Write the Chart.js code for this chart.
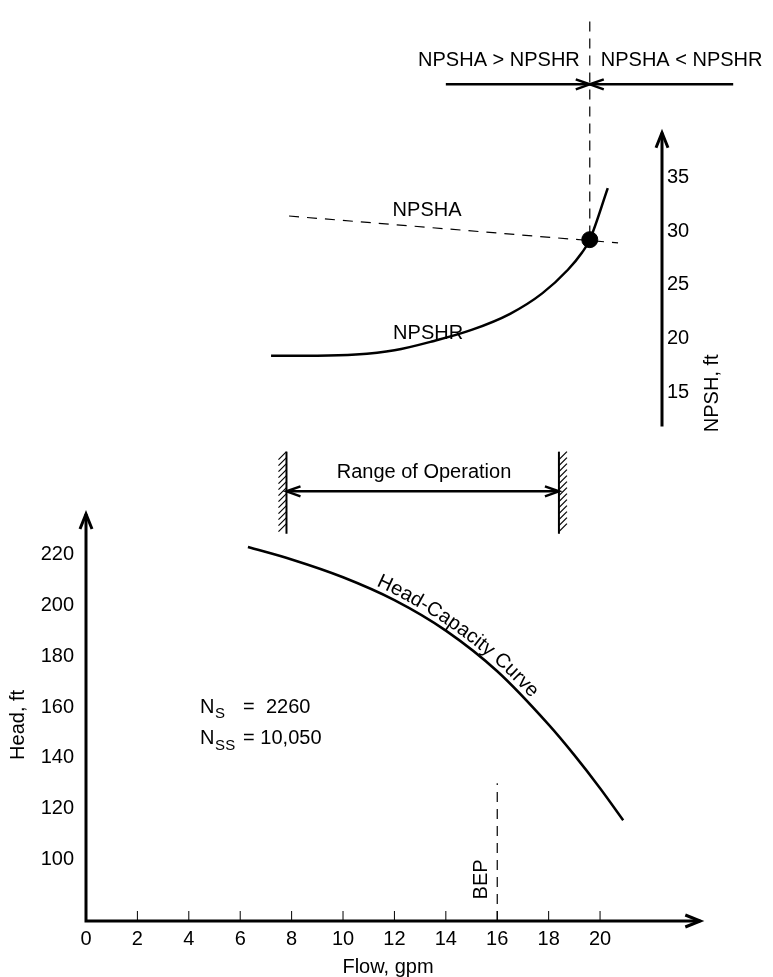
<!DOCTYPE html>
<html>
<head>
<meta charset="utf-8">
<title>Pump curves</title>
<script src="https://cdn.jsdelivr.net/npm/chart.js@4.4.0/dist/chart.umd.min.js"></script>
<style>
    html, body { margin: 0; padding: 0; background: #fff; }
    #wrap { position: relative; width: 773px; height: 977px; }
</style>
</head>
<body>
<div id="wrap"><canvas id="pumpChart" width="773" height="977"></canvas></div>
<script>
// Axis ticks
const flowTicks = [0, 2, 4, 6, 8, 10, 12, 14, 16, 18, 20];
const headTicks = [100, 120, 140, 160, 180, 200, 220];
const npshTicks = [15, 20, 25, 30, 35];

// Head-capacity curve (gpm, ft)
const hcFlow = [6.3, 8, 10, 12, 14, 16, 18, 19, 20, 20.9];
const hcHead = [223, 218.1, 211.1, 202.1, 190.1, 174.1, 153.1, 141.1, 128.1, 115.5];

// NPSH required (gpm, ft)
const npshrFlow = [7.2, 9, 10.5, 12, 13.5, 15, 16.5, 17.75, 18.75, 19.3, 19.6, 20.3];
const npshrVal = [18.4, 18.4, 18.5, 18.9, 19.75, 20.8, 22.3, 24.2, 26.4, 28.0, 29.2, 34.0];

// NPSH available (gpm, ft)
const npshaFlow = [7.9, 20.7];
const npshaVal = [31.4, 28.9];

// crossing point, BEP, operating range
const crossFlow = 19.6;
const crossNpsh = 29.2;
const bepFlow = 16;
const bepHead = [75.84, 130];
const rangeFlow = [7.8, 18.4];

const FONT = "'Liberation Sans', Arial, Helvetica, sans-serif";
const X_MAX = 22.41;
const HEAD_MIN = 75.84, HEAD_MAX = 434.67;
const NPSH_MIN = -34.22, NPSH_MAX = 50.67;

function toPoints(xs, ys) {
    return xs.map((v, i) => ({ x: v, y: ys[i] }));
}

// open "V" arrow head pointing along ang
function arrowHead(ctx, tx, ty, ang, len, half) {
    const c = Math.cos(ang), s = Math.sin(ang);
    ctx.beginPath();
    ctx.moveTo(tx - len * c - half * s, ty - len * s + half * c);
    ctx.lineTo(tx, ty);
    ctx.lineTo(tx - len * c + half * s, ty - len * s - half * c);
    ctx.stroke();
}

function line(ctx, x1, y1, x2, y2) {
    ctx.beginPath();
    ctx.moveTo(x1, y1);
    ctx.lineTo(x2, y2);
    ctx.stroke();
}

function text(ctx, str, x, y, align, size, rot) {
    ctx.save();
    ctx.font = (size || 20) + 'px ' + FONT;
    ctx.textAlign = align || 'center';
    ctx.textBaseline = 'middle';
    ctx.translate(x, y);
    if (rot) ctx.rotate(rot);
    ctx.fillText(str, 0, 0);
    ctx.restore();
}

// sample the drawn curve of a dataset into a dense polyline
function samplePath(meta) {
    const els = meta.data;
    const out = [];
    for (let i = 0; i < els.length - 1; i++) {
        const a = els[i], b = els[i + 1];
        const c1x = a.cp2x !== undefined ? a.cp2x : a.x, c1y = a.cp2y !== undefined ? a.cp2y : a.y;
        const c2x = b.cp1x !== undefined ? b.cp1x : b.x, c2y = b.cp1y !== undefined ? b.cp1y : b.y;
        for (let k = 0; k < 20; k++) {
            const t = k / 20, u = 1 - t;
            out.push({
                x: u*u*u*a.x + 3*u*u*t*c1x + 3*u*t*t*c2x + t*t*t*b.x,
                y: u*u*u*a.y + 3*u*u*t*c1y + 3*u*t*t*c2y + t*t*t*b.y
            });
        }
    }
    const last = els[els.length - 1];
    out.push({ x: last.x, y: last.y });
    let acc = 0;
    out[0].s = 0;
    for (let i = 1; i < out.length; i++) {
        acc += Math.hypot(out[i].x - out[i-1].x, out[i].y - out[i-1].y);
        out[i].s = acc;
    }
    return out;
}

function pointAtLength(path, s) {
    for (let i = 1; i < path.length; i++) {
        if (path[i].s >= s) {
            const a = path[i-1], b = path[i];
            const t = (s - a.s) / ((b.s - a.s) || 1);
            return { x: a.x + (b.x - a.x) * t, y: a.y + (b.y - a.y) * t, ang: Math.atan2(b.y - a.y, b.x - a.x) };
        }
    }
    const a = path[path.length - 2], b = path[path.length - 1];
    return { x: b.x, y: b.y, ang: Math.atan2(b.y - a.y, b.x - a.x) };
}

const annotations = {
    id: 'annotations',
    afterDatasetsDraw(chart) {
        const { ctx, chartArea } = chart;
        const xs = chart.scales.x, ys = chart.scales.y, ns = chart.scales.y2;
        const X = v => xs.getPixelForValue(v);
        const Y = v => ys.getPixelForValue(v);
        const N = v => ns.getPixelForValue(v);
        const bottom = chartArea.bottom;

        ctx.save();
        ctx.strokeStyle = '#000';
        ctx.fillStyle = '#000';
        ctx.lineCap = 'butt';

        // main axes
        ctx.lineWidth = 3;
        ctx.beginPath();
        ctx.moveTo(X(0), Y(236));
        ctx.lineTo(X(0), bottom);
        ctx.lineTo(X(23.9), bottom);
        ctx.stroke();
        arrowHead(ctx, X(0), Y(236), -Math.PI / 2, 15, 6);
        arrowHead(ctx, X(23.9), bottom, 0, 15, 6);

        // small inside ticks on flow axis
        ctx.lineWidth = 1;
        flowTicks.forEach(v => {
            if (v > 0) line(ctx, X(v), bottom, X(v), bottom - 10);
        });

        // NPSH axis
        ctx.lineWidth = 3;
        line(ctx, chartArea.right, N(11.8), chartArea.right, N(39.15));
        arrowHead(ctx, chartArea.right, N(39.15), -Math.PI / 2, 15, 6);

        // range of operation: hatched stops and double arrow
        const wl = X(rangeFlow[0]), wr = X(rangeFlow[1]);
        const wt = Y(260.5), wb = Y(228.2);
        ctx.lineWidth = 2;
        line(ctx, wl, wt, wl, wb);
        line(ctx, wr, wt, wr, wb);
        ctx.lineWidth = 1.2;
        for (let yy = wt + 8; yy <= wb + 1; yy += 6) {
            line(ctx, wl - 8, yy, wl, yy - 8);
            line(ctx, wr, yy, wr + 8, yy - 8);
        }
        const ay = Y(244.9);
        ctx.lineWidth = 2.5;
        line(ctx, wl, ay, wr, ay);
        arrowHead(ctx, wl, ay, Math.PI, 14, 5);
        arrowHead(ctx, wr, ay, 0, 14, 5);
        text(ctx, 'Range of Operation', X(13.15), Y(252.3));

        // NPSHA > / < NPSHR arrows at the top
        const cx = X(crossFlow), ty = N(43.66);
        ctx.lineWidth = 2.5;
        line(ctx, X(14.0), ty, cx, ty);
        line(ctx, X(25.18), ty, cx, ty);
        arrowHead(ctx, cx, ty, 0, 14, 5);
        arrowHead(ctx, cx, ty, Math.PI, 14, 5);
        text(ctx, 'NPSHA > NPSHR', cx - 10, N(45.88), 'right');
        text(ctx, 'NPSHA < NPSHR', cx + 11, N(45.88), 'left');

        // curve labels
        text(ctx, 'NPSHA', X(13.27), N(31.96));
        text(ctx, 'NPSHR', X(13.31), N(20.44));
        text(ctx, 'BEP', X(15.37), Y(92.2), 'center', 20, -Math.PI / 2);

        // specific speed text
        const nx = X(4.44);
        [['S', '=  2260', Y(160)], ['SS', '= 10,050', Y(147.5)]].forEach(r => {
            ctx.save();
            ctx.textBaseline = 'middle';
            ctx.textAlign = 'left';
            ctx.font = '20px ' + FONT;
            ctx.fillText('N', nx, r[2]);
            ctx.font = '15px ' + FONT;
            ctx.fillText(r[0], nx + 15, r[2] + 7);
            ctx.font = '20px ' + FONT;
            ctx.fillText(r[1], nx + 43, r[2]);
            ctx.restore();
        });

        // axis titles
        text(ctx, 'Head, ft', 18, Y(153), 'center', 20, -Math.PI / 2);
        text(ctx, 'Flow, gpm', X(11.75), bottom + 46);
        text(ctx, 'NPSH, ft', X(24.36), N(14.9), 'center', 20, -Math.PI / 2);

        // label following the head-capacity curve
        const path = samplePath(chart.getDatasetMeta(0));
        let s = 0;
        for (let i = 0; i < path.length; i++) {
            if (path[i].x >= 372) { s = path[i].s; break; }
        }
        ctx.font = '20px ' + FONT;
        ctx.textAlign = 'center';
        ctx.textBaseline = 'alphabetic';
        for (const ch of 'Head-Capacity Curve') {
            const w = ctx.measureText(ch).width;
            const p = pointAtLength(path, s + w / 2);
            ctx.save();
            ctx.translate(p.x + Math.sin(p.ang) * 5, p.y - Math.cos(p.ang) * 5);
            ctx.rotate(p.ang);
            ctx.fillText(ch, 0, 0);
            ctx.restore();
            s += w;
        }

        ctx.restore();
    }
};

const tickFont = { family: FONT, size: 20 };

new Chart(document.getElementById('pumpChart'), {
    type: 'line',
    data: {
        datasets: [
            {
                label: 'Head-Capacity Curve',
                data: toPoints(hcFlow, hcHead),
                yAxisID: 'y',
                borderColor: '#000',
                borderWidth: 2.5,
                pointRadius: 0,
                cubicInterpolationMode: 'monotone',
                clip: false
            },
            {
                label: 'NPSHR',
                data: toPoints(npshrFlow, npshrVal),
                yAxisID: 'y2',
                borderColor: '#000',
                borderWidth: 2.5,
                pointRadius: 0,
                cubicInterpolationMode: 'monotone',
                clip: false
            },
            {
                label: 'NPSHA',
                data: toPoints(npshaFlow, npshaVal),
                yAxisID: 'y2',
                borderColor: '#000',
                borderWidth: 1.2,
                borderDash: [10, 8],
                pointRadius: 0,
                clip: false
            },
            {
                label: 'limit',
                data: [{ x: crossFlow, y: 49.5 }, { x: crossFlow, y: crossNpsh }],
                yAxisID: 'y2',
                borderColor: '#000',
                borderWidth: 1.2,
                borderDash: [10, 7],
                pointRadius: 0,
                clip: false
            },
            {
                label: 'BEP',
                data: [{ x: bepFlow, y: bepHead[0] }, { x: bepFlow, y: bepHead[1] }],
                yAxisID: 'y',
                borderColor: '#000',
                borderWidth: 1.2,
                borderDash: [10, 7],
                pointRadius: 0,
                clip: false
            },
            {
                label: 'crossing',
                data: [{ x: crossFlow, y: crossNpsh }],
                yAxisID: 'y2',
                showLine: false,
                pointRadius: 8,
                pointBackgroundColor: '#000',
                pointBorderColor: '#000',
                clip: false
            }
        ]
    },
    options: {
        responsive: false,
        animation: false,
        devicePixelRatio: 1,
        layout: { padding: 0 },
        plugins: {
            legend: { display: false },
            tooltip: { enabled: false }
        },
        scales: {
            x: {
                type: 'linear',
                min: 0,
                max: X_MAX,
                afterBuildTicks: s => { s.ticks = flowTicks.map(v => ({ value: v })); },
                afterFit: s => { s.height = 56; s.paddingLeft = 0; s.paddingRight = 0; },
                grid: { display: false, drawTicks: false },
                border: { display: false },
                ticks: { padding: 6, font: tickFont, color: '#000', autoSkip: false, maxRotation: 0 }
            },
            y: {
                position: 'left',
                min: HEAD_MIN,
                max: HEAD_MAX,
                afterBuildTicks: s => { s.ticks = headTicks.map(v => ({ value: v })); },
                afterFit: s => { s.width = 86; s.paddingTop = 0; s.paddingBottom = 0; },
                grid: { display: false, drawTicks: false },
                border: { display: false },
                ticks: { padding: 12, font: tickFont, color: '#000' }
            },
            y2: {
                position: 'right',
                min: NPSH_MIN,
                max: NPSH_MAX,
                afterBuildTicks: s => { s.ticks = npshTicks.map(v => ({ value: v })); },
                afterFit: s => { s.width = 111; s.paddingTop = 0; s.paddingBottom = 0; },
                grid: { display: false, drawTicks: false },
                border: { display: false },
                ticks: { padding: 5, font: tickFont, color: '#000' }
            }
        }
    },
    plugins: [annotations]
});
</script>
</body>
</html>
